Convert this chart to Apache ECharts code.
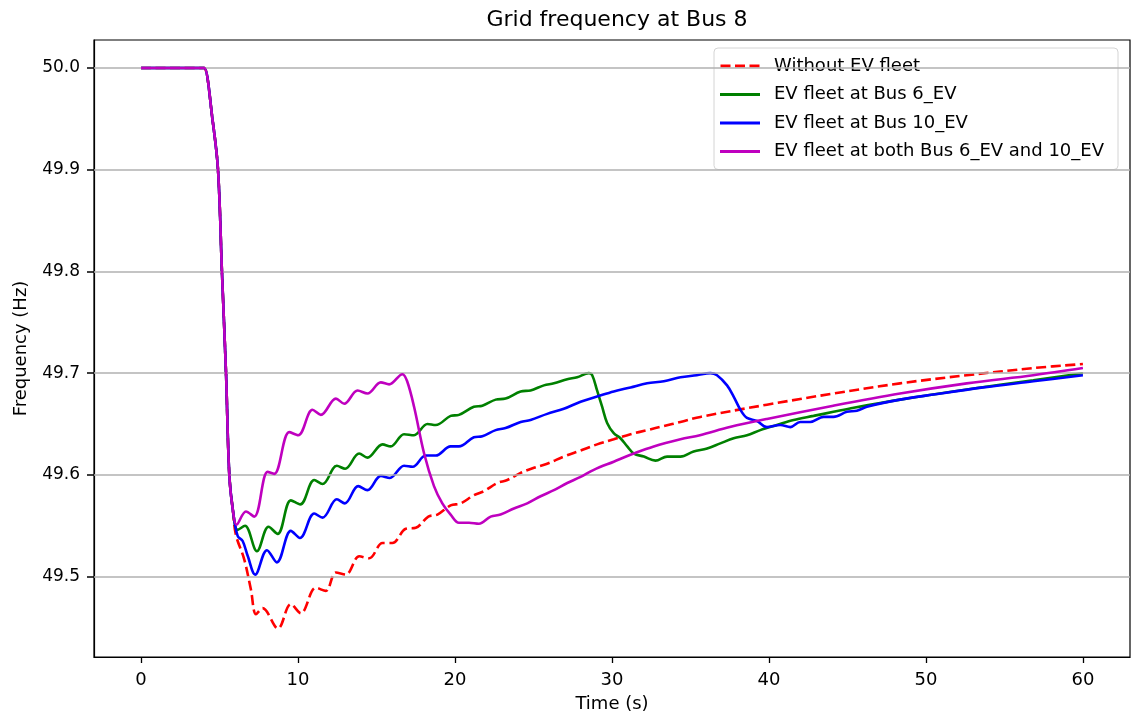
<!DOCTYPE html>
<html>
<head>
<meta charset="utf-8">
<title>Grid frequency at Bus 8</title>
<script src="https://cdn.jsdelivr.net/npm/echarts@6/dist/echarts.min.js"></script>
<style>
  html, body { margin: 0; padding: 0; background: #fff; }
  #chart { width: 1131px; height: 722px; }
</style>
</head>
<body>
<div id="chart"></div>
<script>
// shared part: steady state, then the drop after the disturbance
const dropPhase = [
  [0, 50.0], [3.95, 50.0], [4.03, 50.0], [4.56, 49.948], [4.9, 49.9],
  [5.15, 49.8], [5.41, 49.7], [5.62, 49.6], [5.85, 49.565]
]

const withoutEv = [
  [6.04, 49.541], [6.57, 49.517], [7.0, 49.487], [7.32, 49.463], [7.74, 49.469],
  [8.72, 49.449], [9.54, 49.473], [10.18, 49.464], [11.13, 49.489], [11.77, 49.486],
  [12.41, 49.504], [13.04, 49.502], [13.9, 49.52], [14.53, 49.518], [15.38, 49.533],
  [16.01, 49.533], [16.86, 49.547], [17.5, 49.548], [18.3, 49.559], [18.88, 49.561],
  [19.72, 49.57], [20.36, 49.572], [21.2, 49.58], [21.84, 49.584], [22.69, 49.592],
  [23.33, 49.595], [24.18, 49.602], [25.03, 49.607], [25.87, 49.611], [26.93, 49.618],
  [28.0, 49.624], [29.05, 49.63], [30.11, 49.635], [31.18, 49.64], [32.24, 49.644],
  [33.3, 49.648], [34.36, 49.652], [35.63, 49.657], [39.87, 49.669], [44.11, 49.68],
  [48.35, 49.69], [52.6, 49.698], [56.84, 49.705], [60, 49.709]
]

const evBus6 = [
  [6.15, 49.546], [6.62, 49.55], [7.38, 49.525], [8.12, 49.549], [8.7, 49.542],
  [9.54, 49.575], [10.14, 49.571], [11.03, 49.595], [11.56, 49.591], [12.47, 49.609],
  [13.0, 49.606], [13.89, 49.621], [14.42, 49.617], [15.38, 49.63], [15.9, 49.628],
  [16.75, 49.64], [17.39, 49.639], [18.24, 49.65], [18.77, 49.649], [19.72, 49.658],
  [20.25, 49.659], [21.2, 49.667], [21.74, 49.668], [22.59, 49.674], [23.22, 49.675],
  [24.18, 49.682], [24.81, 49.683], [25.66, 49.688], [26.3, 49.69], [27.15, 49.694],
  [27.78, 49.696], [28.52, 49.7], [28.74, 49.698], [29.05, 49.683], [29.37, 49.667],
  [29.69, 49.651], [30.11, 49.641], [30.54, 49.636], [30.97, 49.628], [31.39, 49.621],
  [32.03, 49.618], [32.77, 49.614], [33.51, 49.618], [34.36, 49.618], [35.2, 49.623],
  [36.06, 49.626], [36.9, 49.631], [37.75, 49.636], [38.6, 49.639], [39.45, 49.644],
  [40.5, 49.649], [41.57, 49.654], [42.84, 49.658], [44.11, 49.662], [45.4, 49.666],
  [48.35, 49.674], [52.6, 49.684], [56.84, 49.693], [60, 49.7]
]

const evBus10 = [
  [6.15, 49.54], [6.47, 49.535], [6.8, 49.52], [7.27, 49.502], [8.02, 49.526],
  [8.65, 49.514], [9.54, 49.545], [10.12, 49.538], [11.03, 49.562], [11.56, 49.558],
  [12.47, 49.576], [12.98, 49.572], [13.83, 49.589], [14.42, 49.585], [15.27, 49.599],
  [15.85, 49.597], [16.75, 49.609], [17.3, 49.608], [18.13, 49.619], [18.77, 49.619],
  [19.72, 49.628], [20.25, 49.628], [21.2, 49.637], [21.74, 49.638], [22.59, 49.644],
  [23.22, 49.646], [24.18, 49.652], [24.81, 49.654], [25.87, 49.66], [26.93, 49.665],
  [28.0, 49.672], [29.05, 49.677], [30.11, 49.682], [31.18, 49.686], [32.24, 49.69],
  [33.3, 49.692], [34.36, 49.696], [35.4, 49.698], [36.27, 49.7], [36.69, 49.698],
  [37.33, 49.688], [37.75, 49.677], [38.18, 49.664], [38.6, 49.656], [39.24, 49.653],
  [39.87, 49.647], [40.72, 49.649], [41.36, 49.647], [41.99, 49.652], [42.63, 49.652],
  [43.48, 49.657], [44.11, 49.657], [44.96, 49.662], [45.6, 49.663], [46.24, 49.667],
  [48.35, 49.674], [50.48, 49.679], [53.65, 49.686], [56.84, 49.692], [60, 49.698]
]

const evBoth = [
  [6.08, 49.551], [6.68, 49.564], [7.21, 49.559], [8.06, 49.603], [8.48, 49.601],
  [9.44, 49.642], [10.01, 49.639], [10.92, 49.664], [11.45, 49.659], [12.41, 49.675],
  [12.94, 49.67], [13.79, 49.683], [14.42, 49.68], [15.27, 49.691], [15.8, 49.689],
  [16.65, 49.699], [16.95, 49.692], [17.39, 49.667], [18.03, 49.621], [18.66, 49.589],
  [19.19, 49.572], [19.72, 49.561], [20.25, 49.553], [20.89, 49.553], [21.52, 49.552],
  [22.27, 49.559], [22.9, 49.561], [23.75, 49.567], [24.6, 49.572], [25.45, 49.579],
  [26.3, 49.585], [27.15, 49.592], [28.0, 49.598], [28.84, 49.605], [30.11, 49.613],
  [31.39, 49.621], [32.66, 49.628], [34.36, 49.635], [35.6, 49.639], [37.5, 49.647],
  [39.87, 49.655], [44.1, 49.668], [48.35, 49.68], [52.6, 49.69], [56.84, 49.698],
  [60, 49.705]
]

const seriesNames = [
  'Without EV fleet',
  'EV fleet at Bus 6_EV',
  'EV fleet at Bus 10_EV',
  'EV fleet at both Bus 6_EV and 10_EV'
]
const xTicks = [0, 10, 20, 30, 40, 50, 60]
const yTicks = [49.5, 49.6, 49.7, 49.8, 49.9, 50.0]

const font = 'DejaVu Sans'
const dashIcon = 'path://M0,0h10v3h-10zM14.5,0h10v3h-10zM29,0h10v3h-10z'
const chartInstance = echarts.init(document.getElementById('chart'))

const curve = (name, data, color, z, dashed) => ({
  name,
  type: 'line',
  data: dropPhase.concat(data),
  showSymbol: false,
  symbol: 'none',
  smooth: 0.35,
  z,
  lineStyle: { color, width: 2.6, type: dashed ? [10, 4.5] : 'solid' },
  itemStyle: { color }
})

const axisBase = {
  nameLocation: 'middle',
  nameTextStyle: { fontFamily: font, fontSize: 18, color: '#000' },
  axisLine: { show: true, onZero: false, lineStyle: { color: '#000', width: 1.2 } },
  splitLine: { show: false }
}

const option = {
  backgroundColor: '#fff',
  animation: false,
  title: {
    text: 'Grid frequency at Bus 8',
    left: 612,
    textAlign: 'center',
    top: 4,
    textStyle: { fontFamily: font, fontSize: 22, fontWeight: 'normal', color: '#000' }
  },
  legend: {
    data: seriesNames.map((name, i) => ({ name, icon: i === 0 ? dashIcon : 'rect' })),
    orient: 'vertical',
    left: 714,
    top: 48,
    itemWidth: 40,
    itemHeight: 3,
    itemGap: 8.5,
    padding: [8, 14, 8, 6],
    backgroundColor: 'rgba(255,255,255,0.8)',
    borderColor: '#d4d4d4',
    borderWidth: 1,
    borderRadius: 4,
    textStyle: { fontFamily: font, fontSize: 18, color: '#000', lineHeight: 20, padding: [0, 0, 0, 9] }
  },
  grid: {
    left: 94,
    right: 1,
    top: 40,
    bottom: 65,
    show: true,
    borderColor: '#000',
    borderWidth: 1.2,
    backgroundColor: 'transparent'
  },
  xAxis: {
    ...axisBase,
    type: 'value',
    position: 'bottom',
    min: -3,
    max: 63,
    name: 'Time (s)',
    nameGap: 38,
    axisTick: { show: true, inside: false, length: 6, customValues: xTicks, lineStyle: { color: '#000', width: 1.3 } },
    axisLabel: { customValues: xTicks, margin: 14, fontFamily: font, fontSize: 18, color: '#000' }
  },
  yAxis: {
    ...axisBase,
    type: 'value',
    position: 'left',
    min: 49.421,
    max: 50.0275,
    name: 'Frequency (Hz)',
    nameRotate: 90,
    nameGap: 64,
    axisTick: { show: true, inside: false, length: 7, customValues: yTicks, lineStyle: { color: '#000', width: 1.5 } },
    axisLabel: {
      customValues: yTicks,
      margin: 14,
      fontFamily: font,
      fontSize: 17,
      color: '#000',
      formatter: (v) => v.toFixed(1)
    }
  },
  series: [
    {
      name: 'grid',
      type: 'line',
      data: [],
      z: 1,
      silent: true,
      markLine: {
        silent: true,
        symbol: ['none', 'none'],
        label: { show: false },
        lineStyle: { color: '#b0b0b0', width: 1.5, type: 'solid' },
        data: yTicks.map((v) => ({ yAxis: v }))
      }
    },
    curve(seriesNames[0], withoutEv, '#ff0000', 2, true),
    curve(seriesNames[1], evBus6, '#008000', 3, false),
    curve(seriesNames[2], evBus10, '#0000ff', 4, false),
    curve(seriesNames[3], evBoth, '#bf00bf', 5, false)
  ]
}

chartInstance.setOption(option)
</script>
</body>
</html>
